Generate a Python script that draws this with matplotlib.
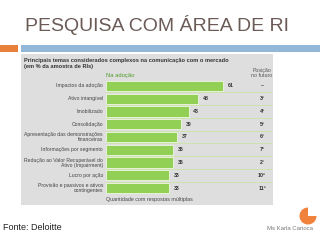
import matplotlib
matplotlib.use("Agg")
import matplotlib.pyplot as plt
from matplotlib.patches import Rectangle, Wedge

categories = ["Impactos da adoção", "Ativo intangível", "Imobilizado", "Consolidação",
              "Apresentação das demonstrações\nfinanceiras", "Informações por segmento",
              "Redução ao Valor Recuperável do\nAtivo (Impairment)", "Lucro por ação",
              "Provisão e passivos e ativos\ncontingentes"]
values = [61, 48, 43, 39, 37, 35, 35, 33, 33]
positions = ["–", "3º", "4º", "5º", "6º", "7º", "2º", "10º", "11º"]

title = "PESQUISA COM ÁREA DE RI"
header = "Principais temas considerados complexos na comunicação com o mercado\n(em % da amostra de RIs)"

W, H = 320, 240
fig = plt.figure(figsize=(3.2, 2.4), dpi=100)
plt.rcParams['font.family'] = ['Liberation Sans', 'DejaVu Sans']

# overlay axes in pixel coordinates
bg = fig.add_axes([0, 0, 1, 1])
bg.set_xlim(0, W)
bg.set_ylim(H, 0)
bg.axis('off')

bg.text(25, 25, title, fontsize=14, color='#6b5b57', va='center', ha='left')
bg.add_patch(Rectangle((0, 44.5), 18, 7, color='#e8803c', lw=0))
bg.add_patch(Rectangle((21, 44.5), 299, 7, color='#92b7d9', lw=0))
bg.add_patch(Rectangle((21, 54), 252, 151, color='#dedede', lw=0))
bg.text(24, 63.5, header, fontsize=4.1, color='#333333', fontweight='bold',
        va='center', ha='left', linespacing=1.3)
bg.text(106, 75, "Na adoção", fontsize=4.2, color='#4f9a2a', va='center', ha='left')
bg.text(262, 73, "Posição\nno futuro", fontsize=3.8, color='#555555', va='center',
        ha='center', linespacing=1.2)
bg.text(106, 199.5, "Quantidade com respostas múltiplas", fontsize=3.8, color='#444444',
        va='center', ha='left')
bg.text(3, 227, "Fonte: Deloitte", fontsize=6.5, color='#222222', va='center', ha='left')
bg.text(290, 229, "Ms Karla Carioca", fontsize=4.3, color='#777777', va='center', ha='center')
bg.add_patch(Wedge((308, 216), 8.5, 0, 270, color='#f0823c', lw=0))

# bar axes
x0, x1 = 106, 273
y0, y1 = 79.6, 194.4
ax = fig.add_axes([x0 / W, 1 - y1 / H, (x1 - x0) / W, (y1 - y0) / H])
ax.set_xlim(0, (x1 - x0) / 1.92)
n = len(values)
ax.set_ylim(n - 0.5, -0.5)
ax.axis('off')
ypos = list(range(n))
ax.barh(ypos, values, height=0.8, color='#92cf55', edgecolor='#eef6e0', linewidth=0.6)
for i in range(n - 1):
    ax.axhline(i + 0.5, color='#c9e3a6', lw=0.6)
for y, v, p, c in zip(ypos, values, positions, categories):
    ax.text(v + 2.5, y, str(v), fontsize=3.8, color='#333333', va='center',
            ha='left', fontweight='bold')
    ax.text((262 - x0) / 1.92, y, p, fontsize=3.8, color='#333333', va='center',
            ha='center', fontweight='bold')
    ax.text(-1.5, y, c, fontsize=3.7, color='#444444', va='center', ha='right',
            linespacing=1.0, clip_on=False)

fig.savefig("out.png", dpi=100)
